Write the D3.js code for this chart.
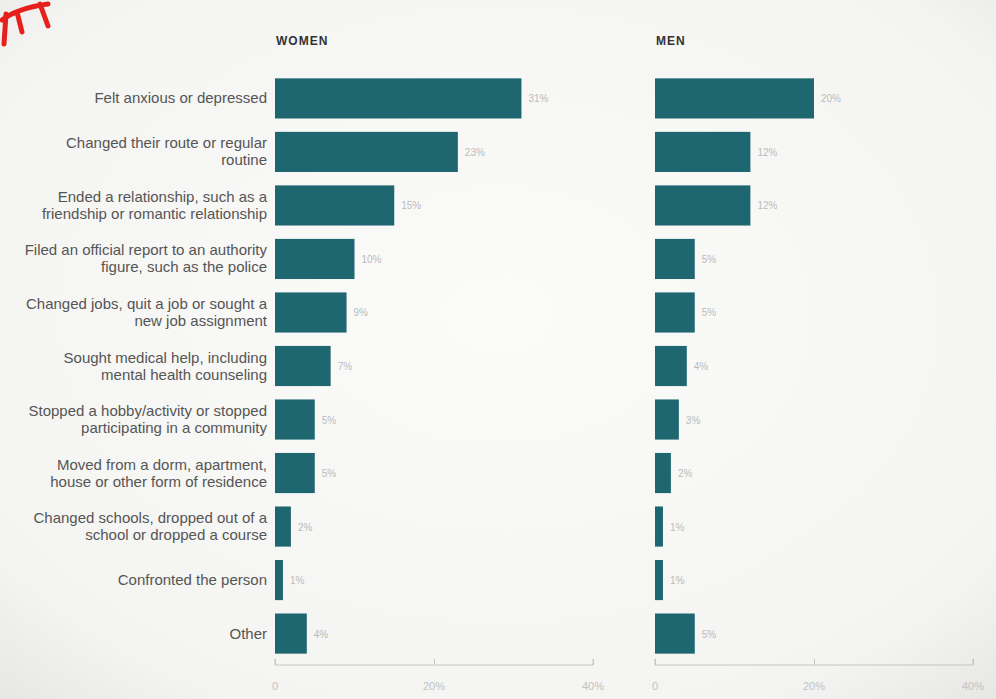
<!DOCTYPE html>
<html lang="en">
<head>
    <meta charset="UTF-8">
    <script src="https://d3js.org/d3.v7.min.js"></script>
    <title>Reactions to harassment, women vs men</title>
    <style>
        body { margin: 0; background: #f3f3f1; }
        svg { display: block; font-family: "Liberation Sans", Arial, sans-serif; }
    </style>
</head>
<body>
<script>
    // data
    var categories = [
        "Felt anxious or depressed",
        "Changed their route or regular|routine",
        "Ended a relationship, such as a|friendship or romantic relationship",
        "Filed an official report to an authority|figure, such as the police",
        "Changed jobs, quit a job or sought a|new job assignment",
        "Sought medical help, including|mental health counseling",
        "Stopped a hobby/activity or stopped|participating in a community",
        "Moved from a dorm, apartment,|house or other form of residence",
        "Changed schools, dropped out of a|school or dropped a course",
        "Confronted the person",
        "Other"
    ];
    var women = [31, 23, 15, 10, 9, 7, 5, 5, 2, 1, 4];
    var men = [20, 12, 12, 5, 5, 4, 3, 2, 1, 1, 5];
    var tickValues = [0, 20, 40];

    var canvasWidth = 996;
    var canvasHeight = 699;
    var barColor = "#1e6770";

    var svg = d3.select("body").append("svg")
        .attr("width", canvasWidth)
        .attr("height", canvasHeight);

    // paper background with slight shading
    var defs = svg.append("defs");
    var grad = defs.append("radialGradient").attr("id", "paper")
        .attr("cx", "50%").attr("cy", "45%").attr("r", "75%");
    grad.append("stop").attr("offset", "0%").attr("stop-color", "#fbfbfa");
    grad.append("stop").attr("offset", "80%").attr("stop-color", "#f4f4f2");
    grad.append("stop").attr("offset", "100%").attr("stop-color", "#e6e6e4");
    svg.append("rect").attr("width", canvasWidth).attr("height", canvasHeight)
        .attr("fill", "url(#paper)");

    // red pen scribble in the corner
    svg.append("path")
        .attr("d", "M2,20 Q18,8 48,4 M6,14 L4,44 M17,12 L22,32 M40,4 L48,26")
        .attr("fill", "none").attr("stroke", "#e8201c")
        .attr("stroke-width", 5).attr("stroke-linecap", "round");

    var yScale = d3.scaleBand()
        .domain(categories)
        .range([73, 659])
        .paddingInner(0.25)
        .paddingOuter(0.1);

    function drawPanel(x0, title, values, showLabels) {
        var xScale = d3.scaleLinear().domain([0, 40]).range([x0, x0 + 318]);
        var g = svg.append("g");

        g.append("text")
            .attr("x", x0 + 1)
            .attr("y", 45)
            .attr("font-size", 12)
            .attr("font-weight", "bold")
            .attr("fill", "#333")
            .attr("letter-spacing", 1)
            .text(title);

        g.selectAll(".bar").data(values).enter().append("rect")
            .attr("class", "bar")
            .attr("x", xScale(0))
            .attr("y", function (d, i) { return yScale(categories[i]); })
            .attr("width", function (d) { return xScale(d) - xScale(0); })
            .attr("height", yScale.bandwidth())
            .attr("fill", barColor);

        g.selectAll(".val").data(values).enter().append("text")
            .attr("class", "val")
            .attr("x", function (d) { return xScale(d) + 7; })
            .attr("y", function (d, i) { return yScale(categories[i]) + yScale.bandwidth() / 2 + 4; })
            .attr("font-size", 10)
            .attr("fill", "#bbb")
            .text(function (d) { return d + "%"; });

        var axis = g.append("g")
            .attr("transform", "translate(0," + 665 + ")")
            .call(d3.axisTop(xScale).tickValues(tickValues).tickSize(6).tickFormat(""));
        axis.select(".domain").attr("stroke", "#c9c4bd").attr("d", "M" + xScale(0) + ",-6V0H" + xScale(40) + "V-6");
        axis.selectAll(".tick line").attr("stroke", "#c9c4bd");
        g.selectAll(".tlab").data(tickValues).enter().append("text")
            .attr("class", "tlab")
            .attr("x", function (d) { return xScale(d); })
            .attr("y", 690)
            .attr("text-anchor", "middle")
            .attr("font-size", 11)
            .attr("fill", "#c2c2c2")
            .text(function (d) { return d === 0 ? "0" : d + "%"; });

        if (showLabels) {
            categories.forEach(function (c, i) {
                var lines = c.split("|");
                var cy = yScale(c) + yScale.bandwidth() / 2;
                var t = g.append("text")
                    .attr("text-anchor", "end")
                    .attr("font-size", 15)
                    .attr("fill", "#555");
                lines.forEach(function (line, k) {
                    t.append("tspan")
                        .attr("x", x0 - 8)
                        .attr("y", cy + 5 + (k - (lines.length - 1) / 2) * 17)
                        .text(line);
                });
            });
        }
    }

    drawPanel(275, "WOMEN", women, true);
    drawPanel(655, "MEN", men, false);
</script>
</body>
</html>
